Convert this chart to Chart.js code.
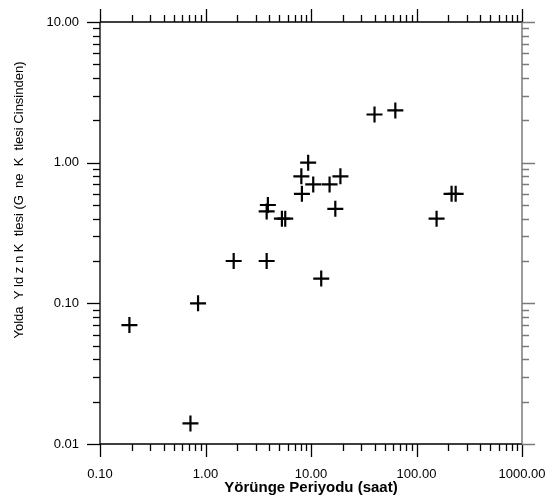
<!DOCTYPE html>
<html>
<head>
<meta charset="utf-8">
<script src="https://cdn.jsdelivr.net/npm/chart.js@4.4.1/dist/chart.umd.min.js"></script>
<style>
  html, body { margin: 0; padding: 0; background: #fff; }
  #wrap { width: 551px; height: 498px; }
</style>
</head>
<body>
<div id="wrap"><canvas id="chart" width="551" height="498"></canvas></div>
<script>
// orbital period (hours) and companion mass (solar masses)
const periodHours = [0.19, 0.72, 0.85, 1.85, 3.8, 3.9, 3.8, 5.3, 5.7, 12.5,
  9.4, 8.1, 10.5, 15, 19, 8.2, 17, 40, 63, 215, 235, 155];
const companionMass = [0.07, 0.014, 0.10, 0.20, 0.20, 0.50, 0.45, 0.40, 0.40, 0.15,
  1.0, 0.80, 0.70, 0.70, 0.80, 0.60, 0.47, 2.2, 2.35, 0.60, 0.60, 0.40];

const xTickValues = [0.1, 1, 10, 100, 1000];
const xTickLabels = ['0.10', '1.00', '10.00', '100.00', '1000.00'];
const yTickValues = [0.01, 0.1, 1, 10];
const yTickLabels = ['0.01', '0.10', '1.00', '10.00'];

const xTitle = 'Yörünge Periyodu (saat)';
const yTitle = 'Yolda  Y ld z n K  tlesi (G  ne  K  tlesi Cinsinden)';

const points = periodHours.map((p, i) => ({ x: p, y: companionMass[i] }));

// every 1..9 multiple inside the decades of an axis
function logSteps(values) {
  const out = [];
  for (let i = 0; i < values.length - 1; i++) {
    for (let m = 1; m < 10; m++) out.push({ v: values[i] * m, major: m === 1 });
  }
  out.push({ v: values[values.length - 1], major: true });
  return out;
}

// frame with outward ticks on all four sides + rotated y title
const framePlugin = {
  id: 'frame',
  afterDraw(chart) {
    const { ctx, chartArea: a, scales } = chart;
    const xs = scales.x, ys = scales.y;
    const minor = 7, major = 13;
    ctx.save();
    ctx.lineWidth = 1.3;
    ctx.strokeStyle = '#000';
    ctx.beginPath();
    ctx.moveTo(a.left, a.top); ctx.lineTo(a.right, a.top);
    ctx.moveTo(a.left, a.bottom); ctx.lineTo(a.right, a.bottom);
    ctx.moveTo(a.left, a.top); ctx.lineTo(a.left, a.bottom);
    ctx.stroke();
    logSteps(xTickValues).forEach(t => {
      const px = Math.round(xs.getPixelForValue(t.v)) + 0.5;
      const len = t.major ? major : minor;
      ctx.beginPath();
      ctx.moveTo(px, a.bottom); ctx.lineTo(px, a.bottom + len);
      ctx.moveTo(px, a.top); ctx.lineTo(px, a.top - len);
      ctx.stroke();
    });
    logSteps(yTickValues).forEach(t => {
      const py = Math.round(ys.getPixelForValue(t.v)) + 0.5;
      const len = t.major ? major : minor;
      ctx.beginPath();
      ctx.moveTo(a.left, py); ctx.lineTo(a.left - len, py);
      ctx.stroke();
    });
    // right side is drawn in grey
    ctx.strokeStyle = '#7a7a7a';
    ctx.lineWidth = 1.5;
    ctx.beginPath();
    ctx.moveTo(a.right, a.top); ctx.lineTo(a.right, a.bottom);
    ctx.stroke();
    logSteps(yTickValues).forEach(t => {
      const py = Math.round(ys.getPixelForValue(t.v)) + 0.5;
      const len = t.major ? major : minor;
      ctx.beginPath();
      ctx.moveTo(a.right, py); ctx.lineTo(a.right + len, py);
      ctx.stroke();
    });

    ctx.fillStyle = '#000';
    ctx.font = '13px "Liberation Sans", Arial, sans-serif';
    ctx.textAlign = 'center';
    ctx.textBaseline = 'middle';
    ctx.translate(19, 200);
    ctx.rotate(-Math.PI / 2);
    ctx.fillText(yTitle, 0, 0);
    ctx.restore();
  }
};

new Chart(document.getElementById('chart'), {
  type: 'scatter',
  data: {
    datasets: [{
      data: points,
      pointStyle: 'cross',
      pointRadius: 8,
      pointHoverRadius: 8,
      borderColor: '#000',
      backgroundColor: '#000',
      borderWidth: 2.2
    }]
  },
  options: {
    responsive: false,
    animation: false,
    events: [],
    layout: { padding: { top: 22, right: 29, left: 0, bottom: 0 } },
    plugins: { legend: { display: false }, tooltip: { enabled: false } },
    scales: {
      x: {
        type: 'logarithmic',
        min: 0.1,
        max: 1000,
        grid: { display: false },
        border: { display: false },
        afterBuildTicks(scale) { scale.ticks = xTickValues.map(v => ({ value: v })); },
        afterFit(scale) {
          scale.height = 54;
          scale.paddingLeft = 0;
          scale.paddingRight = 0;
        },
        ticks: {
          autoSkip: false,
          maxRotation: 0,
          padding: 15,
          color: '#000',
          font: { family: '"Liberation Sans", Arial, sans-serif', size: 13 },
          callback: (v) => xTickLabels[xTickValues.indexOf(v)] ?? ''
        },
        title: {
          display: true,
          text: xTitle,
          color: '#000',
          padding: { top: 2, bottom: 1 },
          font: { family: '"Liberation Sans", Arial, sans-serif', size: 15, weight: 'bold' }
        }
      },
      y: {
        type: 'logarithmic',
        min: 0.01,
        max: 10,
        grid: { display: false },
        border: { display: false },
        afterBuildTicks(scale) { scale.ticks = yTickValues.map(v => ({ value: v })); },
        afterFit(scale) {
          scale.width = 100;
          scale.paddingTop = 0;
          scale.paddingBottom = 0;
        },
        ticks: {
          autoSkip: false,
          padding: 13,
          color: '#000',
          font: { family: '"Liberation Sans", Arial, sans-serif', size: 13 },
          callback: (v) => yTickLabels[yTickValues.indexOf(v)] ?? ''
        }
      }
    }
  },
  plugins: [framePlugin]
});
</script>
</body>
</html>
